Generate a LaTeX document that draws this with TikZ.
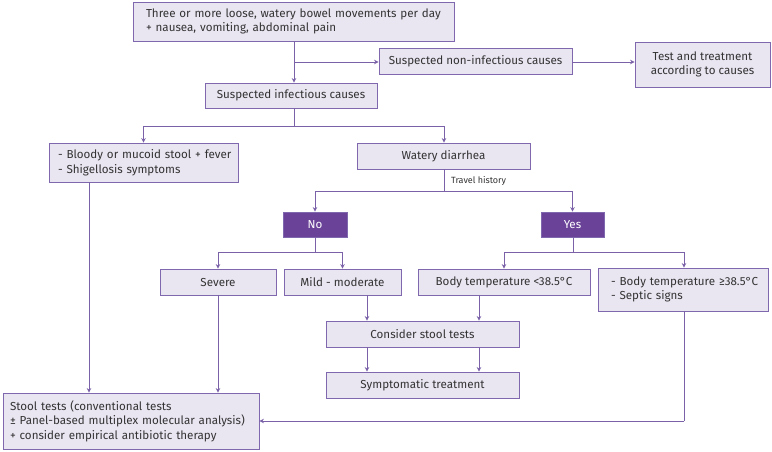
\documentclass[tikz,border=0pt]{standalone}
\usepackage{fontspec}
\setmainfont{Fira Sans}
\usetikzlibrary{arrows.meta,calc}
\definecolor{boxfill}{HTML}{E9E5F1}
\definecolor{boxline}{HTML}{8068AE}
\definecolor{darkfill}{HTML}{6A4399}
\definecolor{conn}{HTML}{7B62A8}
\definecolor{txt}{HTML}{333333}
\tikzset{
  box/.style={draw=boxline, fill=boxfill, line width=0.9pt, inner sep=0pt, font=\fontsize{11.6}{14.6}\selectfont, text=txt},
  dbox/.style={draw=boxline, fill=darkfill, line width=0.9pt, inner sep=0pt, font=\fontsize{11.6}{14.6}\selectfont, text=white},
  conline/.style={draw=conn, line width=0.9pt},
  arr/.style={conline, -{Stealth[length=4.5pt,width=4.5pt]}},
}
\begin{document}
\begin{tikzpicture}[x=1pt,y=-1pt]
\useasboundingbox (0,0) rectangle (772,451);
% nodes
\node[box, minimum width=321pt, minimum height=39pt, text width=295pt, align=left] (top) at (293.5,21.5)
  {\mbox{Three or more loose, watery bowel movements per day}\\\mbox{+ nausea, vomiting, abdominal pain}};
\node[box, minimum width=193pt, minimum height=26pt] (noninf) at (475.5,61) {Suspected non-infectious causes};
\node[box, minimum width=135pt, minimum height=45pt, align=center] (test) at (702.5,64.5) {Test and treatment\\according to causes};
\node[box, minimum width=172pt, minimum height=25pt] (infect) at (291,95.5) {Suspected infectious causes};
\node[box, minimum width=189pt, minimum height=39pt, text width=171pt, align=left] (bloody) at (143.5,162.5)
  {\mbox{- Bloody or mucoid stool + fever}\\\mbox{- Shigellosis symptoms}};
\node[box, minimum width=173pt, minimum height=26pt] (watery) at (443.5,156) {Watery diarrhea};
\node[dbox, minimum width=64pt, minimum height=25pt] (no) at (315,224.5) {No};
\node[dbox, minimum width=63pt, minimum height=25pt] (yes) at (572.5,224.5) {Yes};
\node[box, minimum width=116pt, minimum height=26pt] (severe) at (218,282) {Severe};
\node[box, minimum width=117pt, minimum height=26pt] (mild) at (342.5,282) {Mild - moderate};
\node[box, minimum width=172pt, minimum height=26pt] (bodylt) at (504,282) {Body temperature <38.5°C};
\node[box, minimum width=170pt, minimum height=43pt, text width=144pt, align=left] (bodyge) at (683,289.5)
  {\mbox{- Body temperature ≥38.5°C}\\\mbox{- Septic signs}};
\node[box, minimum width=193pt, minimum height=26pt] (consider) at (422.5,334) {Consider stool tests};
\node[box, minimum width=193pt, minimum height=26pt] (sympt) at (422.5,385) {Symptomatic treatment};
\node[box, minimum width=256pt, minimum height=56pt, text width=242pt, align=left] (stool) at (131,421)
  {\mbox{Stool tests (conventional tests}\\\mbox{± Panel-based multiplex molecular analysis)}\\\mbox{+ consider empirical antibiotic therapy}};
% junctions
\coordinate (j1) at (294,62);
\coordinate (j2) at (294,126);
\coordinate (j3) at (444,191);
\coordinate (j4) at (315,252);
\coordinate (j5) at (573,252);
\coordinate (j6) at (684,421);
% connectors
\draw[conline] (top.south -| j1) -- (j1);
\draw[arr] (j1) -- (j1 |- infect.north);
\draw[arr] (j1) -- (noninf.west |- j1);
\draw[arr] (noninf.east |- j1) -- (test.west |- j1);
\draw[conline] (infect.south -| j2) -- (j2);
\draw[arr] (j2) -| (bloody.north);
\draw[arr] (j2) -| (watery.north -| 444,0);
\draw[conline] (watery.south -| j3) -- (j3);
\draw[arr] (j3) -| (no.north);
\draw[arr] (j3) -| (yes.north);
\node[font=\fontsize{9}{10}\selectfont, text=txt, anchor=west, inner sep=0pt] (travel) at (451,181) {Travel history};
\draw[conline] (no.south) -- (j4);
\draw[arr] (j4) -| (severe.north);
\draw[arr] (j4) -| (mild.north);
\draw[conline] (yes.south -| j5) -- (j5);
\draw[arr] (j5) -| (bodylt.north);
\draw[arr] (j5) -| (bodyge.north -| j6);
\draw[arr] (mild.south -| 367,0) -- (consider.north -| 367,0);
\draw[arr] (bodylt.south -| 479,0) -- (consider.north -| 479,0);
\draw[arr] (consider.south -| 367,0) -- (sympt.north -| 367,0);
\draw[arr] (consider.south -| 479,0) -- (sympt.north -| 479,0);
\draw[arr] (bloody.south -| 89,0) -- (stool.north -| 89,0);
\draw[arr] (severe.south) -- (stool.north -| severe.south);
\draw[conline] (bodyge.south -| j6) -- (j6);
\draw[arr] (j6) -- (stool.east |- j6);
\end{tikzpicture}
\end{document}
